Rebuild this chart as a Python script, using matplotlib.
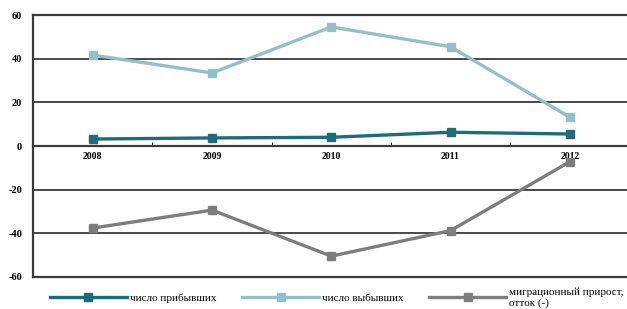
import numpy as np
import matplotlib.pyplot as plt

# data
years = ['2008', '2009', '2010', '2011', '2012']
arrived = [3.2, 3.7, 4.0, 6.3, 5.5]
departed = [41.7, 33.5, 54.6, 45.5, 13.2]
migration = [-37.6, -29.4, -50.5, -38.8, -7.2]
y_ticks = [-60, -40, -20, 0, 20, 40, 60]

plt.rcParams['font.family'] = ['Liberation Serif', 'DejaVu Serif']

fig = plt.figure(figsize=(6.27, 3.09), dpi=100)
ax = fig.add_axes([0.053, 0.104, 0.947, 0.847])

x = np.arange(len(years))
grid_c = '#3a3a3a'

for v in [20, 40, -20, -40]:
    ax.axhline(v, color=grid_c, lw=1.3, zorder=1)
ax.axhline(-60, color=grid_c, lw=1.6, zorder=1, clip_on=False)

l1, = ax.plot(x, arrived, color='#1f6b7a', lw=2.4, marker='s', ms=6, zorder=3,
              label='число прибывших')
l2, = ax.plot(x, departed, color='#94bfc7', lw=2.4, marker='s', ms=6, zorder=3,
              label='число выбывших')
l3, = ax.plot(x, migration, color='#7d7d7d', lw=2.4, marker='s', ms=6, zorder=3,
              label='миграционный прирост,\nотток (-)')

ax.set_xlim(-0.5, 4.48)
ax.set_ylim(-60, 60)

# x axis sits on zero
ax.spines['bottom'].set_position(('data', 0))
ax.spines['bottom'].set_color(grid_c)
ax.spines['bottom'].set_linewidth(1.6)
ax.spines['top'].set_color(grid_c)
ax.spines['top'].set_linewidth(1.6)
ax.spines['left'].set_color(grid_c)
ax.spines['left'].set_linewidth(1.6)
ax.spines['right'].set_visible(False)

ax.set_xticks(x)
ax.set_xticklabels(years, fontsize=7, fontweight='bold')
ax.set_xticks(x[:-1] + 0.5, minor=True)
ax.tick_params(axis='x', which='major', length=0, pad=4)
ax.tick_params(axis='x', which='minor', direction='in', length=3, color='black')

ax.set_yticks(y_ticks)
ax.set_yticklabels([str(t) for t in y_ticks], fontsize=7.5, fontweight='bold')
ax.tick_params(axis='y', length=0, pad=8)

fig.legend(handles=[l1, l2, l3], loc='lower left', bbox_to_anchor=(0.08, 0.003),
           ncol=3, frameon=False, fontsize=8, handlelength=6.9,
           handletextpad=0.3, columnspacing=2.3, borderaxespad=0, borderpad=0)

fig.savefig('out.png', dpi=100)
